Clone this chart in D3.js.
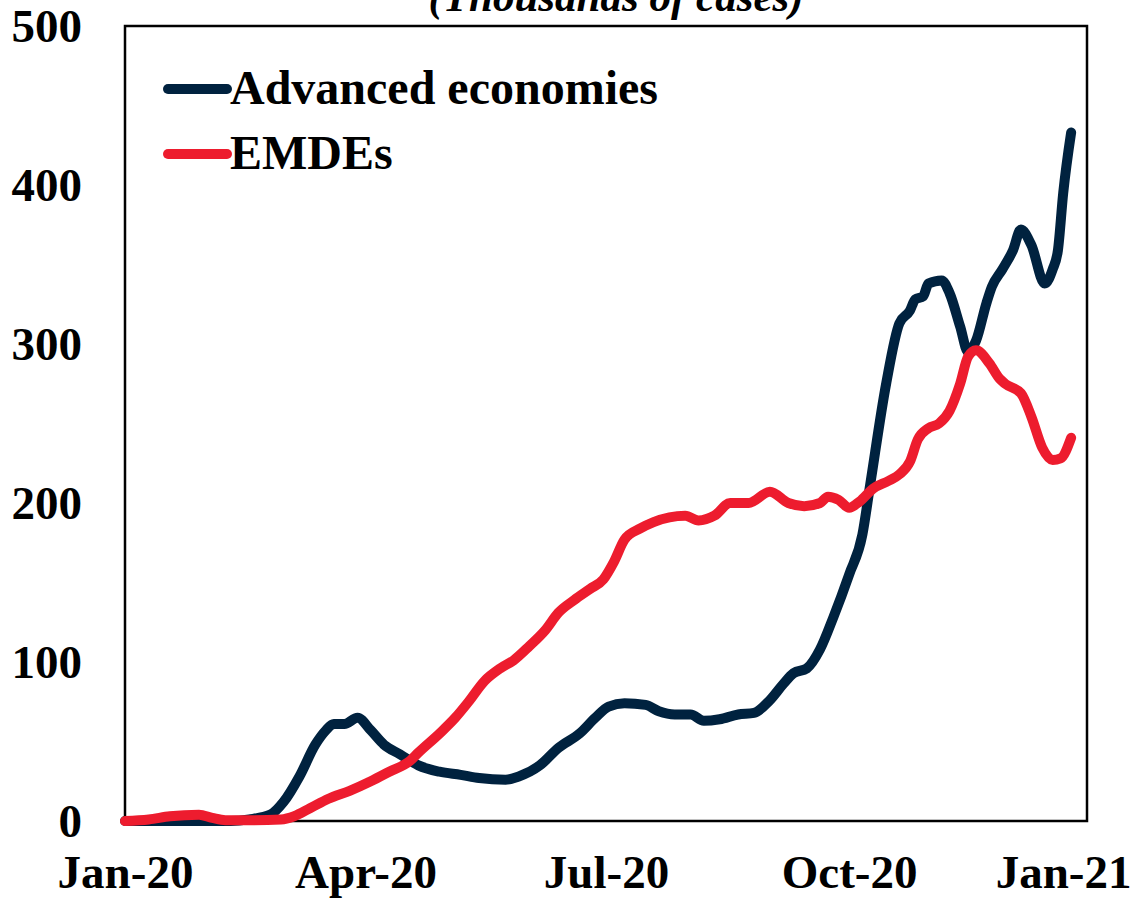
<!DOCTYPE html>
<html>
<head>
<meta charset="utf-8">
<script src="https://cdn.jsdelivr.net/npm/d3@7"></script>
<style>
  body { margin: 0; background: #fff; }
  text { font-family: "Liberation Serif", "Times New Roman", serif; font-weight: bold; }
</style>
</head>
<body>
<div id="chart"></div>
<script>
// series data (thousands of cases)
var advDates = ["2020-01-01","2020-01-22","2020-02-10","2020-02-17","2020-02-25","2020-03-01","2020-03-07","2020-03-13","2020-03-17","2020-03-20","2020-03-24","2020-03-29","2020-04-03","2020-04-08","2020-04-14","2020-04-21","2020-04-29","2020-05-07","2020-05-14","2020-05-24","2020-05-29","2020-06-06","2020-06-13","2020-06-21","2020-06-27","2020-07-02","2020-07-08","2020-07-16","2020-07-21","2020-07-27","2020-08-02","2020-08-07","2020-08-13","2020-08-20","2020-08-26","2020-09-01","2020-09-06","2020-09-10","2020-09-15","2020-09-20","2020-09-25","2020-10-01","2020-10-06","2020-10-09","2020-10-15","2020-10-20","2020-10-24","2020-10-26","2020-10-29","2020-10-31","2020-11-05","2020-11-08","2020-11-12","2020-11-15","2020-11-18","2020-11-22","2020-11-24","2020-11-28","2020-12-02","2020-12-05","2020-12-09","2020-12-14","2020-12-17","2020-12-19","2020-12-21","2020-12-24"];
var advValues = [0,0,0,1,4,12,28,48,57,61,61,65,57,48,42,35,31,29,27,26,28,35,46,55,65,72,74,73,69,67,67,63,64,67,68,76,86,93,96,108,128,155,180,212,275,313,321,328,330,338,340,332,311,295,302,326,336,347,359,372,362,338,347,359,395,433];

var emdeDates = ["2020-01-01","2020-01-10","2020-01-18","2020-01-29","2020-02-03","2020-02-08","2020-02-17","2020-02-29","2020-03-05","2020-03-11","2020-03-18","2020-03-26","2020-04-03","2020-04-10","2020-04-18","2020-04-21","2020-04-29","2020-05-05","2020-05-10","2020-05-16","2020-05-22","2020-05-27","2020-06-02","2020-06-08","2020-06-13","2020-06-19","2020-06-25","2020-06-30","2020-07-04","2020-07-08","2020-07-14","2020-07-19","2020-07-25","2020-07-31","2020-08-05","2020-08-11","2020-08-17","2020-08-24","2020-09-01","2020-09-08","2020-09-14","2020-09-20","2020-09-23","2020-09-27","2020-10-01","2020-10-05","2020-10-10","2020-10-16","2020-10-20","2020-10-24","2020-10-27","2020-10-31","2020-11-04","2020-11-08","2020-11-12","2020-11-15","2020-11-18","2020-11-23","2020-11-27","2020-11-29","2020-12-05","2020-12-09","2020-12-13","2020-12-17","2020-12-20","2020-12-24"];
var emdeValues = [0,1,3,4,2,0.5,0.5,1,3,8,14,19,25,31,38,43,55,65,75,88,96,101,110,120,131,139,146,152,163,177,184,188,191,192,189,192,200,200,207,200,198,200,204,202,197,201,209,214,218,226,240,247,250,258,275,292,296,288,278,275,269,254,235,227,228,241];

var seriesNames = ["Advanced economies", "EMDEs"];
var seriesColors = ["#00223F", "#ED1C2E"];

var xTickDates = ["2020-01-01","2020-04-01","2020-07-01","2020-10-01","2021-01-01"];
var xTickLabels = ["Jan-20","Apr-20","Jul-20","Oct-20","Jan-21"];
var yTicks = [0, 100, 200, 300, 400, 500];

var svgWidth = 1134;
var svgHeight = 901;
var margin = { top: 26, right: 47, bottom: 80, left: 125 };
var width = svgWidth - margin.left - margin.right;
var height = svgHeight - margin.top - margin.bottom;

var parse = d3.timeParse("%Y-%m-%d");

var svg = d3.select("#chart")
  .append("svg")
  .attr("width", svgWidth)
  .attr("height", svgHeight);

var chartGroup = svg.append("g")
  .attr("transform", `translate(${margin.left}, ${margin.top})`);

var x = d3.scaleTime()
  .domain([parse("2020-01-01"), parse("2020-12-30")])
  .range([0, width]);

var y = d3.scaleLinear()
  .domain([0, 500])
  .range([height, 0]);

// title, mostly cut off at the top edge
svg.append("text")
  .attr("x", 616)
  .attr("y", 11)
  .attr("text-anchor", "middle")
  .style("font-size", "43px")
  .style("font-style", "italic")
  .text("(Thousands of cases)");

// y axis labels
var leftAxis = d3.axisLeft(y).tickValues(yTicks).tickSize(0).tickPadding(43);
chartGroup.append("g")
  .call(leftAxis)
  .call(g => g.select(".domain").remove())
  .selectAll("text")
  .style("font-size", "47px")
  .attr("fill", "#000");

// x axis labels
var bottomAxis = d3.axisBottom(x)
  .tickValues(xTickDates.map(parse))
  .tickFormat((d, i) => xTickLabels[i])
  .tickSize(0)
  .tickPadding(34);
var xAxis = chartGroup.append("g")
  .attr("transform", `translate(0, ${height})`)
  .call(bottomAxis);
xAxis.select(".domain").remove();
xAxis.selectAll("text")
  .style("font-size", "47px")
  .attr("fill", "#000");
// last label is pushed in so it stays inside the picture
xAxis.selectAll(".tick").filter((d, i) => i === xTickLabels.length - 1)
  .select("text")
  .attr("text-anchor", "end")
  .attr("dx", svgWidth - margin.left - x(parse("2021-01-01")) - 3 + "px")
  .attr("x", 0);

// plot frame
chartGroup.append("rect")
  .attr("width", width)
  .attr("height", height)
  .attr("fill", "none")
  .attr("stroke", "#000")
  .attr("stroke-width", 2.5);

var line = d3.line()
  .x(d => x(d.date))
  .y(d => y(d.value))
  .curve(d3.curveMonotoneX);

var series = [
  advDates.map((d, i) => ({ date: parse(d), value: advValues[i] })),
  emdeDates.map((d, i) => ({ date: parse(d), value: emdeValues[i] }))
];

series.forEach(function(s, i) {
  chartGroup.append("path")
    .datum(s)
    .attr("fill", "none")
    .attr("stroke", seriesColors[i])
    .attr("stroke-width", 10)
    .attr("stroke-linecap", "round")
    .attr("stroke-linejoin", "round")
    .attr("d", line);
});

// legend
var legend = chartGroup.append("g")
  .attr("transform", "translate(43, 63)");

seriesNames.forEach(function(name, i) {
  var row = legend.append("g").attr("transform", `translate(0, ${i * 65})`);
  row.append("line")
    .attr("x1", 0).attr("x2", 59)
    .attr("stroke", seriesColors[i])
    .attr("stroke-width", 10)
    .attr("stroke-linecap", "round");
  row.append("text")
    .attr("x", 62)
    .attr("y", 15)
    .style("font-size", "48px")
    .text(name);
});
</script>
</body>
</html>
